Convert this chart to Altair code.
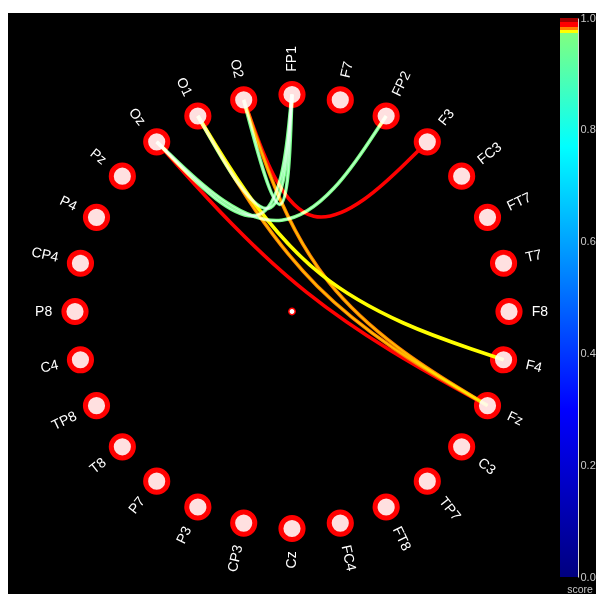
import altair as alt
import numpy as np
import pandas as pd

# ---------------- data ----------------
nodes = ["FP1", "F7", "FP2", "F3", "FC3", "FT7", "T7", "F8", "F4", "Fz", "C3", "TP7", "FT8", "FC4",
         "Cz", "CP3", "P3", "P7", "T8", "TP8", "C4", "P8", "CP4", "P4", "Pz", "Oz", "O1", "O2"]

edge_src = ["O2", "Oz", "O1", "O2", "O1", "Oz", "O1", "O2", "Oz"]
edge_dst = ["F3", "Fz", "Fz", "Fz", "F4", "FP1", "FP1", "FP1", "FP2"]
edge_score = [0.988, 0.988, 0.981, 0.981, 0.976, 0.962, 0.962, 0.960, 0.965]

cbar_ticks = [0.0, 0.2, 0.4, 0.6, 0.8, 1.0]
cmap_stops = [0.0, 0.30, 0.77, 0.9729, 0.9730, 0.9789, 0.9790, 0.9839, 0.9840, 0.9929, 0.9930, 1.0]
cmap_colors = ["#000080", "#0000ff", "#00ffff", "#80ff80", "#ffff00", "#ffff00",
               "#ff8000", "#ff8000", "#ff0000", "#ff0000", "#a00000", "#a00000"]

# ---------------- circular layout ----------------
N = len(nodes)
ang = {n: 90.0 - i * 360.0 / N for i, n in enumerate(nodes)}
LR = 1.105
node_rows = []
for i, n in enumerate(nodes):
    t = np.deg2rad(ang[n])
    right = i < N // 2
    a = (-ang[n]) % 360 if right else (180 - ang[n]) % 360
    node_rows.append(dict(name=n, x=np.cos(t), y=np.sin(t),
                          lx=LR * np.cos(t), ly=LR * np.sin(t),
                          angle=a, side="R" if right else "L"))
node_df = pd.DataFrame(node_rows)
pos = {r["name"]: (r["x"], r["y"]) for r in node_rows}

edge_rows = []
for k, (s, d, sc) in enumerate(zip(edge_src, edge_dst, edge_score)):
    p0 = np.array(pos[s]); p2 = np.array(pos[d])
    ctrl = (p0 + p2) / 8.0  # basis control so mid-curve matches a centre-pulled bezier
    for o, p in enumerate([p0, ctrl, p2]):
        edge_rows.append(dict(edge=f"{s}-{d}", order=o, x=p[0], y=p[1], score=sc))
edge_df = pd.DataFrame(edge_rows)

centre_df = pd.DataFrame({"x": [0.0], "y": [0.0]})
cbar_df = pd.DataFrame({"lo": [cbar_ticks[0]], "hi": [cbar_ticks[-1]]})

# ---------------- chart ----------------
PAD_TOP = 5
W, H = 588, 581
xs = alt.Scale(domain=[-1, 1], range=[67, 501])
ys = alt.Scale(domain=[-1, 1], range=[515.5, 81.5])
X = alt.X("x:Q", scale=xs, axis=None)
Y = alt.Y("y:Q", scale=ys, axis=None)

cscale = alt.Scale(domain=cmap_stops, range=cmap_colors)


def edge_layer(width):
    return alt.Chart(edge_df).mark_line(interpolate="basis", strokeWidth=width, blend="screen").encode(
        x=X, y=Y,
        color=alt.Color("score:Q", scale=cscale, legend=None),
        detail="edge:N",
        order="order:Q",
    )


pts = alt.Chart(node_df).mark_point(
    shape="circle", filled=True, fill="#ffe0e0", stroke="#ff0000",
    strokeWidth=5, size=491, opacity=1
).encode(x=X, y=Y)

lab_r = alt.Chart(node_df).transform_filter("datum.side == 'R'").mark_text(
    align="left", baseline="middle", color="white", fontSize=14, font="Liberation Sans"
).encode(x=alt.X("lx:Q", scale=xs, axis=None), y=alt.Y("ly:Q", scale=ys, axis=None),
         text="name:N", angle=alt.Angle("angle:Q", scale=None))

lab_l = alt.Chart(node_df).transform_filter("datum.side == 'L'").mark_text(
    align="right", baseline="middle", color="white", fontSize=14, font="Liberation Sans"
).encode(x=alt.X("lx:Q", scale=xs, axis=None), y=alt.Y("ly:Q", scale=ys, axis=None),
         text="name:N", angle=alt.Angle("angle:Q", scale=None))

centre = alt.Chart(centre_df).mark_point(
    shape="circle", filled=True, fill="white", stroke="#ff0000", strokeWidth=1.5, size=40, opacity=1
).encode(x=X, y=Y)

main = alt.layer(pts, edge_layer(3.6), edge_layer(1.4), centre, lab_r, lab_l)

# colour bar
BAR_L, BAR_R = 552, 570
grad = alt.LinearGradient(
    gradient="linear", x1=0, x2=0, y1=1, y2=0,
    stops=[alt.GradientStop(offset=o, color=c) for o, c in zip(cmap_stops, cmap_colors)],
)
cbar = alt.Chart(cbar_df).mark_rect(fill=grad).encode(
    x=alt.value(BAR_L), x2=alt.value(BAR_R),
    y=alt.Y("hi:Q", scale=alt.Scale(domain=[0, 1], range=[564, 5]),
            axis=alt.Axis(orient="right", offset=BAR_R - W, values=cbar_ticks, format=".1f",
                          labelColor="#c8c8c8", labelFontSize=11, labelFont="Liberation Sans",
                          labelPadding=2, labelFlush=False, ticks=False,
                          domainColor="#d8d8d8", domainWidth=1, grid=False,
                          title="score", titleAngle=0, titleX=1.5, titleY=H,
                          titleColor="#c8c8c8", titleFontSize=10.5, titleFontWeight="normal",
                          titleFont="Liberation Sans", titleAlign="center",
                          titleBaseline="bottom")),
    y2="lo:Q",
)

chart = alt.layer(main, cbar).resolve_scale(y="independent").properties(
    width=W, height=H,
    autosize=alt.AutoSizeParams(type="none"),
    padding={"left": 0, "top": PAD_TOP, "right": 0, "bottom": 0},
    background="white",
).configure_view(fill="black", strokeWidth=0)

chart.save("out.html", embed_options={"renderer": "svg", "actions": False})
